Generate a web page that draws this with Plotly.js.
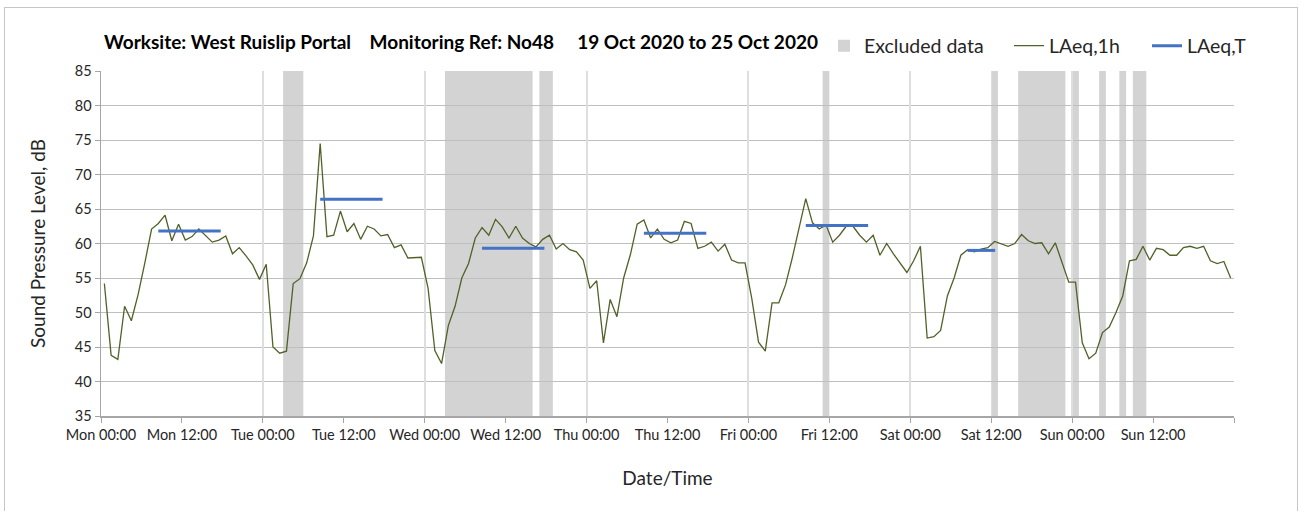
<!DOCTYPE html>
<html><head><meta charset="utf-8">
<script src="https://cdn.plot.ly/plotly-3.0.1.min.js"></script>
<style>
body{margin:0;background:#fff;}
#chart{width:1304px;height:511px;}
#frame{position:absolute;left:4px;top:7px;width:1292px;height:510px;border:1px solid #c6c6c6;border-bottom:none;pointer-events:none;}
</style>
</head><body>
<div id="chart"></div><div id="frame"></div>
<script>
// ---- data ----
const dayDates = ['2020-10-19','2020-10-20','2020-10-21','2020-10-22','2020-10-23','2020-10-24','2020-10-25'];
// hourly LAeq,1h values (hour 00..23) per day
const mon = [54.2,43.8,43.2,50.9,48.8,52.6,57.2,62.1,62.9,64.1,60.4,62.8,60.5,61.0,62.1,61.2,60.2,60.5,61.1,58.5,59.4,58.2,56.9,54.8];
const tue = [57.0,45.0,44.1,44.4,54.2,54.9,57.2,61.1,74.5,61.0,61.2,64.7,61.7,62.9,60.6,62.5,62.1,61.1,61.3,59.4,59.8,57.9,57.9,58.0];
const wed = [53.5,44.5,42.6,48.1,50.9,55.0,57.1,60.8,62.3,61.2,63.5,62.4,60.8,62.5,60.8,60.0,59.5,60.6,61.2,59.2,60.0,59.1,58.8,57.6];
const thu = [53.5,54.6,45.6,51.9,49.4,55.0,58.4,62.8,63.4,60.8,62.1,60.6,60.1,60.5,63.2,62.9,59.3,59.6,60.2,58.9,59.9,57.6,57.2,57.2];
const fri = [52.0,45.7,44.4,51.4,51.4,54.0,57.9,62.1,66.5,63.0,62.1,62.7,60.2,61.2,62.5,62.5,61.2,60.2,61.2,58.3,60.0,58.5,57.2,55.8];
const sat = [57.5,59.6,46.3,46.5,47.4,52.4,55.0,58.3,59.1,58.8,59.2,59.4,60.3,60.0,59.6,60.0,61.3,60.4,60.0,60.1,58.5,60.1,57.2,54.4];
const sun = [54.4,45.6,43.3,44.1,47.1,47.9,50.0,52.4,57.5,57.7,59.6,57.6,59.3,59.1,58.3,58.3,59.4,59.6,59.3,59.6,57.5,57.1,57.4,55.0];
const hourly = [mon,tue,wed,thu,fri,sat,sun];

// LAeq,T periods
const periodStart = ['2020-10-19 08:30','2020-10-20 08:30','2020-10-21 08:30','2020-10-22 08:30','2020-10-23 08:30','2020-10-24 08:30'];
const periodEnd   = ['2020-10-19 17:45','2020-10-20 17:45','2020-10-21 17:45','2020-10-22 17:45','2020-10-23 17:45','2020-10-24 12:35'];
const periodLevel = [61.8,66.4,59.3,61.5,62.6,59.0];

// Excluded data periods
const exStart = ['2020-10-20 03:00','2020-10-21 03:00','2020-10-21 17:00','2020-10-23 11:00','2020-10-24 12:00','2020-10-24 16:00','2020-10-25 00:00','2020-10-25 04:00','2020-10-25 07:00','2020-10-25 09:00'];
const exEnd   = ['2020-10-20 06:00','2020-10-21 16:00','2020-10-21 19:00','2020-10-23 12:00','2020-10-24 13:00','2020-10-24 23:00','2020-10-25 01:00','2020-10-25 05:00','2020-10-25 08:00','2020-10-25 11:00'];

// x tick positions and labels (last tick has no label)
const xTickVals = ['2020-10-19 00:00','2020-10-19 12:00','2020-10-20 00:00','2020-10-20 12:00','2020-10-21 00:00','2020-10-21 12:00','2020-10-22 00:00','2020-10-22 12:00','2020-10-23 00:00','2020-10-23 12:00','2020-10-24 00:00','2020-10-24 12:00','2020-10-25 00:00','2020-10-25 12:00','2020-10-26 00:00'];
const xTickText = ['Mon 00:00','Mon 12:00','Tue 00:00','Tue 12:00','Wed 00:00','Wed 12:00','Thu 00:00','Thu 12:00','Fri 00:00','Fri 12:00','Sat 00:00','Sat 12:00','Sun 00:00','Sun 12:00',''];
const yTicks = [35,40,45,50,55,60,65,70,75,80,85];

// ---- build ----
const pad = n => (n<10?'0':'')+n;
const xs = [], ys = [];
hourly.forEach((day,d) => day.forEach((v,h) => { xs.push(dayDates[d]+' '+pad(h)+':30'); ys.push(v); }));

const tx = [], ty = [];
periodStart.forEach((s,i) => { tx.push(s, periodEnd[i], null); ty.push(periodLevel[i], periodLevel[i], null); });

const FONT = 'Lato, "Open Sans", sans-serif';
const traces = [
  {type:'bar', x:[null], y:[null], name:'Excluded data', marker:{color:'#d3d3d3'}, legend:'legend', xaxis:'x2', hoverinfo:'skip'},
  {type:'scatter', mode:'lines', x:xs, y:ys, name:'LAeq,1h', line:{color:'#4f6228', width:1.3}, legend:'legend2'},
  {type:'scatter', mode:'lines', x:tx, y:ty, name:'LAeq,T', line:{color:'#4472c4', width:3}, legend:'legend3', connectgaps:false}
];

const shapes = exStart.map((s,i) => ({type:'rect', xref:'x', yref:'paper', x0:s, x1:exEnd[i], y0:0, y1:1, fillcolor:'#d3d3d3', line:{width:0}, layer:'below'}));

const range = ['2020-10-19 00:00','2020-10-26 00:00'];
const legBase = {orientation:'h', xref:'container', yref:'container', yanchor:'middle', xanchor:'left', y:1-46/511, bgcolor:'rgba(0,0,0,0)', font:{family:FONT, size:19.5, color:'#262626'}};
const sp4 = '\u00a0\u00a0\u00a0\u00a0', sp5 = '\u00a0\u00a0\u00a0\u00a0\u00a0';

const layout = {
  width:1304, height:511,
  margin:{l:101, r:70, t:71, b:95},
  paper_bgcolor:'rgba(0,0,0,0)', plot_bgcolor:'#fff',
  font:{family:FONT, color:'#262626'},
  title:{text:'Worksite: West Ruislip Portal'+sp4+'Monitoring Ref: No48'+sp5+'19 Oct 2020 to 25 Oct 2020',
         xref:'container', yref:'container', x:104/1304, xanchor:'left', y:1-42/511, yanchor:'middle',
         font:{family:FONT, size:19, weight:'bold', color:'#000'}},
  xaxis:{type:'date', range:range, tickmode:'array', tickvals:xTickVals, ticktext:xTickText,
         showgrid:false, zeroline:false, showline:true, linecolor:'#a6a6a6', linewidth:1.5,
         ticks:'outside', ticklen:5, tickcolor:'#a6a6a6', tickfont:{family:FONT, size:14.5, color:'#262626'},
         title:{text:'Date/Time', font:{family:FONT, size:19, color:'#262626'}, standoff:30}, fixedrange:true},
  xaxis2:{type:'date', range:range, overlaying:'x', anchor:'y', tick0:'2020-10-19', dtick:86400000,
          showgrid:true, gridcolor:'#dedede', gridwidth:2, showticklabels:false, ticks:'', showline:false, zeroline:false},
  yaxis:{range:[35,85], tickvals:yTicks, showgrid:true, gridcolor:'#bfbfbf', gridwidth:1, zeroline:false,
         showline:true, linecolor:'#a6a6a6', linewidth:1.5, ticks:'outside', ticklen:5, tickcolor:'#a6a6a6',
         tickfont:{family:FONT, size:14.5, color:'#262626'},
         title:{text:'Sound Pressure Level, dB', font:{family:FONT, size:19, color:'#262626'}, standoff:24}},
  shapes:shapes,
  legend:Object.assign({}, legBase, {x:824/1304}),
  legend2:Object.assign({}, legBase, {x:1009/1304}),
  legend3:Object.assign({}, legBase, {x:1147/1304}),
  showlegend:true
};

Plotly.newPlot('chart', traces, layout, {displayModeBar:false, staticPlot:true});
</script>
</body></html>
